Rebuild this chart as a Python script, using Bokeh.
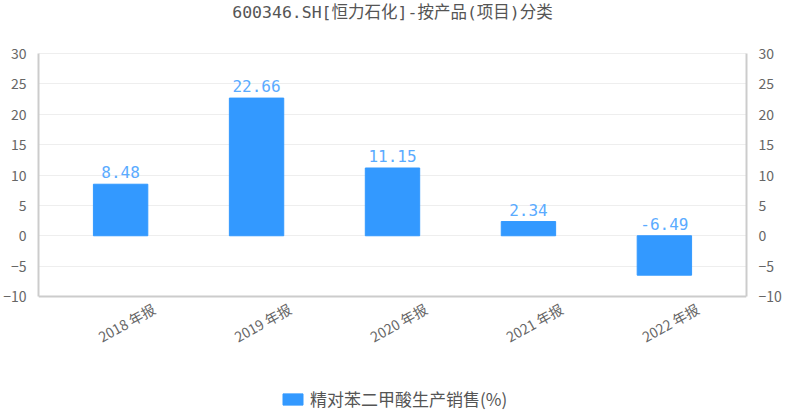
from bokeh.plotting import figure
from bokeh.models import (ColumnDataSource, LinearAxis, Range1d, Legend, LegendItem,
                          FixedTicker, Span, Label)
from bokeh.core.properties import value
from bokeh.embed import file_html
from bokeh.resources import INLINE

title_text = "600346.SH[恒力石化]-按产品(项目)分类"
categories = ["2018 年报", "2019 年报", "2020 年报", "2021 年报", "2022 年报"]
values = [8.48, 22.66, 11.15, 2.34, -6.49]
labels = ["8.48", "22.66", "11.15", "2.34", "-6.49"]
series_name = "精对苯二甲酸生产销售(%)"
y_ticks = [-10, -5, 0, 5, 10, 15, 20, 25, 30]

BAR = "#3399ff"
LBL = "#5aabff"
GRAY = "#666666"
CJK = "Noto Sans CJK SC"
MONO = "'DejaVu Sans Mono', 'Noto Sans CJK SC'"

y_min, y_max = y_ticks[0], y_ticks[-1]
idx = list(range(len(categories)))
src = ColumnDataSource(dict(
    x=idx, top=values, label=labels,
    ly=[max(v, 0) for v in values],
))
cat_src = ColumnDataSource(dict(x=idx, y=[y_min] * len(idx), text=categories))

# layout in pixels (canvas)
H = 411
TOP_PX = 53            # canvas y of the y_max gridline
AXIS_PX = 243          # pixels between y_min and y_max
TITLE_PX = 12          # canvas y of the title centre
ppu = AXIS_PX / (y_max - y_min)
y_high = y_max + TOP_PX / ppu
y_low = y_min - (H - TOP_PX - AXIS_PX) / ppu
title_y = y_max + (TOP_PX - TITLE_PX) / ppu

pad = 0.104
p = figure(x_range=Range1d(-0.5 - pad, len(categories) - 0.5 + pad),
           y_range=Range1d(y_low, y_high),
           width=784, height=H, output_backend="svg", toolbar_location=None,
           min_border_left=32, min_border_right=32, min_border_top=0, min_border_bottom=0)

r = p.vbar(x="x", top="top", bottom=0, width=0.4, source=src, color=BAR)
p.text(x="x", y="ly", text="label", source=src, text_align="center", text_baseline="bottom",
       y_offset=-6, text_font=value(MONO), text_font_size="16px", text_color=LBL)

# category labels under the bottom line, rotated like the reference
p.text(x="x", y="y", text="text", source=cat_src, angle=0.5, text_align="center",
       text_baseline="middle", x_offset=6, y_offset=26, text_font=value(CJK),
       text_font_size="14px", text_color=GRAY)

p.add_layout(Label(x=(len(categories) - 1) / 2, y=title_y, text=title_text,
                   text_align="center", text_baseline="middle", text_font=MONO,
                   text_font_size="16.5px", text_color="#555555"))

p.outline_line_color = None
p.xgrid.grid_line_color = None
p.ygrid.grid_line_color = "#eeeeee"
p.ygrid.grid_line_width = 1
p.ygrid.ticker = FixedTicker(ticks=y_ticks)
p.add_layout(Span(location=y_min, dimension="width", line_color="#cccccc", line_width=2))

p.xaxis.visible = False
p.yaxis.ticker = FixedTicker(ticks=y_ticks)
right = LinearAxis(ticker=FixedTicker(ticks=y_ticks))
p.add_layout(right, "right")
for ax in [p.yaxis[0], right]:
    ax.bounds = (y_min, y_max)
    ax.axis_line_color = "#cccccc"
    ax.axis_line_width = 2
    ax.major_tick_line_color = None
    ax.minor_tick_line_color = None
    ax.major_label_text_font = CJK
    ax.major_label_text_font_size = "14px"
    ax.major_label_text_color = GRAY
    ax.major_label_standoff = 6

legend = Legend(items=[LegendItem(label=series_name, renderers=[r])], location=(242, 0),
                orientation="horizontal", label_text_font=CJK, label_text_font_size="17px",
                label_text_color="#555555", border_line_color=None, background_fill_alpha=0,
                glyph_width=25, glyph_height=14, margin=0, padding=1, spacing=0)
p.add_layout(legend, "center")

open("out.html", "w").write(file_html(p, INLINE))
